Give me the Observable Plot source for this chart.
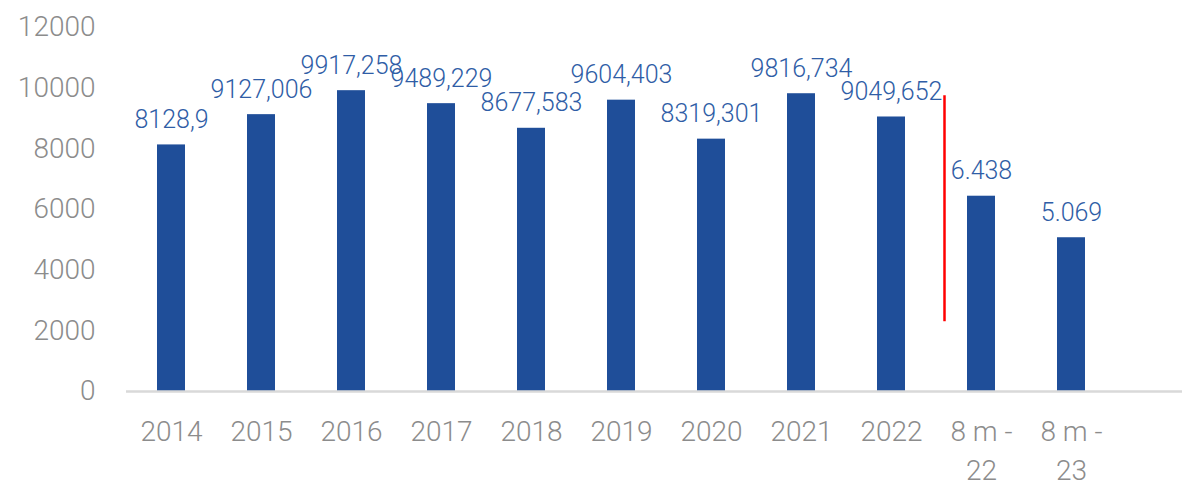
<!DOCTYPE html>
<html>
<head>
<meta charset="utf-8">
<script src="https://cdn.jsdelivr.net/npm/d3@7"></script>
<script src="https://cdn.jsdelivr.net/npm/@observablehq/plot@0.6"></script>
<style>
  html, body { margin: 0; padding: 0; background: #ffffff; }
  #chart svg { display: block; }
</style>
</head>
<body>
<div id="chart"></div>
<script>
const categories = ["2014", "2015", "2016", "2017", "2018", "2019", "2020", "2021", "2022", "8 m -\n22", "8 m -\n23"];
const values = [8128.9, 9127.006, 9917.258, 9489.229, 8677.583, 9604.403, 8319.301, 9816.734, 9049.652, 6438, 5069];
const valueLabels = ["8128,9", "9127,006", "9917,258", "9489,229", "8677,583", "9604,403", "8319,301", "9816,734", "9049,652", "6.438", "5.069"];
const yTicks = [0, 2000, 4000, 6000, 8000, 10000, 12000];
const dividerCategory = "8 m -\n22";
const dividerSpan = [2300, 9750];

const data = categories.map((c, i) => ({category: c, value: values[i], label: valueLabels[i]}));

const chart = Plot.plot({
  width: 1188,
  height: 485,
  marginTop: 27,
  marginBottom: 94,
  marginLeft: 126,
  marginRight: 6,
  style: {fontFamily: "Roboto, 'Open Sans', sans-serif", fontWeight: 300, background: "#ffffff"},
  x: {domain: categories, range: [126, 1116], paddingInner: 0.69, paddingOuter: 0.345, label: null},
  y: {domain: [0, 12000], label: null},
  marks: [
    Plot.barY(data, {x: "category", y: "value", fill: "#1F4E99"}),
    Plot.ruleY([0], {stroke: "#D9D9D9", strokeWidth: 2.5}),
    Plot.ruleX([dividerCategory], {x: d => d, y1: dividerSpan[0], y2: dividerSpan[1], dx: -37, stroke: "#FF0000", strokeWidth: 2.5}),
    Plot.text(data, {x: "category", y: "value", text: "label", dy: -17, lineAnchor: "bottom", fill: "#2F5DA6", fontSize: 25, fontWeight: 300}),
    Plot.axisY({ticks: yTicks, tickSize: 0, tickPadding: 31, fontSize: 28, fill: "#8C8C8C", fontWeight: 300, label: null, tickFormat: d => String(d)}),
    Plot.axisX({tickSize: 0, tickPadding: 21, fontSize: 28, fill: "#8C8C8C", fontWeight: 300, lineHeight: 1.42, label: null})
  ]
});
document.getElementById("chart").appendChild(chart);
</script>
</body>
</html>
